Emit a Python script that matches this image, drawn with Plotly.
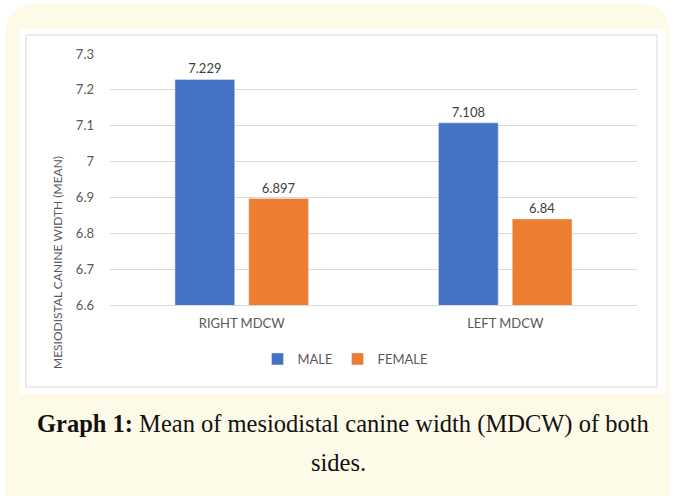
import plotly.graph_objects as go

categories = ["RIGHT MDCW", "LEFT MDCW"]
male = [7.229, 7.108]
female = [6.897, 6.84]
male_labels = ["7.229", "7.108"]
female_labels = ["6.897", "6.84"]
y_ticks = [6.6, 6.7, 6.8, 6.9, 7.0, 7.1, 7.2, 7.3]
y_tick_labels = ["6.6", "6.7", "6.8", "6.9", "7", "7.1", "7.2", "7.3"]

W, H = 674, 496
L, R, T, B = 110, 637, 54, 305  # plot area in pixels

def px(x):
    return (x - L) / (R - L)

def py(y):
    return (B - y) / (B - T)

def rounded_path(x0, y0, x1, y1, r):
    pts = []
    pts.append(f"M {px(x0 + r)} {py(y0)}")
    pts.append(f"L {px(x1 - r)} {py(y0)}")
    pts.append(f"Q {px(x1)} {py(y0)} {px(x1)} {py(y0 + r)}")
    pts.append(f"L {px(x1)} {py(y1 - r)}")
    pts.append(f"Q {px(x1)} {py(y1)} {px(x1 - r)} {py(y1)}")
    pts.append(f"L {px(x0 + r)} {py(y1)}")
    pts.append(f"Q {px(x0)} {py(y1)} {px(x0)} {py(y1 - r)}")
    pts.append(f"L {px(x0)} {py(y0 + r)}")
    pts.append(f"Q {px(x0)} {py(y0)} {px(x0 + r)} {py(y0)}")
    pts.append("Z")
    return " ".join(pts)

font_main = "Lato, 'Open Sans', sans-serif"
gray_txt = "#595959"

fig = go.Figure()
fig.add_trace(go.Bar(
    name="MALE", x=categories, y=male, marker_color="#4472C4",
    text=male_labels, textposition="outside", cliponaxis=False,
    textfont=dict(color="#404040", size=13, family=font_main),
))
fig.add_trace(go.Bar(
    name="FEMALE", x=categories, y=female, marker_color="#ED7D31",
    text=female_labels, textposition="outside", cliponaxis=False,
    textfont=dict(color="#404040", size=13, family=font_main),
))

shapes = [
    dict(type="path", xref="paper", yref="paper", layer="below",
         path=rounded_path(5, 4, 670, 540, 32),
         fillcolor="#FEFAE8", line=dict(width=0)),
    dict(type="rect", xref="paper", yref="paper", layer="below",
         x0=px(20), x1=px(665), y0=py(29), y1=py(394),
         fillcolor="#FFFFFF", line=dict(width=0)),
    dict(type="rect", xref="paper", yref="paper", layer="below",
         x0=px(26), x1=px(657), y0=py(35), y1=py(387),
         fillcolor="#FFFFFF", line=dict(color="#D9D9D9", width=1)),
]

cap_font = dict(family="'Liberation Serif', serif", size=24.5, color="#111111")
annotations = [
    dict(text="MESIODISTAL CANINE WIDTH (MEAN)", textangle=-90,
         xref="paper", yref="paper", x=px(57), y=py(263), showarrow=False,
         xanchor="center", yanchor="middle",
         font=dict(family=font_main, size=12, color=gray_txt)),
    dict(text="<b>Graph 1:</b> Mean of mesiodistal canine width (MDCW) of both",
         xref="paper", yref="paper", x=px(343), y=py(424), showarrow=False,
         xanchor="center", yanchor="middle", font=cap_font),
    dict(text="sides.",
         xref="paper", yref="paper", x=px(338), y=py(462), showarrow=False,
         xanchor="center", yanchor="middle", font=cap_font),
]

fig.update_layout(
    width=W, height=H,
    margin=dict(l=L, r=W - R, t=T, b=H - B, pad=0),
    paper_bgcolor="#FFFFFF", plot_bgcolor="rgba(0,0,0,0)",
    barmode="group", bargap=0.44, bargroupgap=0.19,
    font=dict(family=font_main, size=13, color=gray_txt),
    shapes=shapes, annotations=annotations,
    legend=dict(orientation="h", x=px(345), xanchor="center", y=py(359), yanchor="middle",
                font=dict(size=13, color=gray_txt), bgcolor="rgba(0,0,0,0)",
                itemwidth=30, traceorder="normal"),
    xaxis=dict(showgrid=False, showline=True, linecolor="#D9D9D9", linewidth=1,
               ticks="", tickfont=dict(size=13, color=gray_txt), ticklabelstandoff=6),
    yaxis=dict(range=[6.6, 7.3], tickvals=y_ticks, ticktext=y_tick_labels,
               showgrid=True, gridcolor="#D9D9D9", gridwidth=1, zeroline=False,
               showline=False, ticks="", ticklabelstandoff=15,
               tickfont=dict(size=13, color=gray_txt)),
)

fig.write_html("out.html", post_script="document.body.style.margin='0';",
               config={"displayModeBar": False})
